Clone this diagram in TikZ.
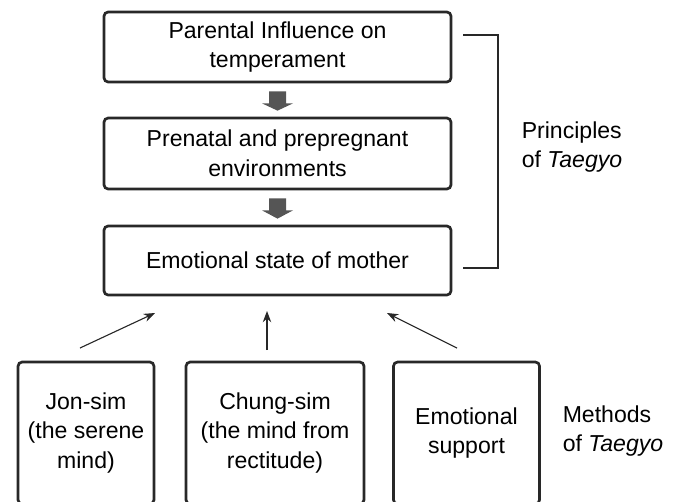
\documentclass[tikz,border=0pt]{standalone}
\usepackage{fontspec}
\setmainfont{Liberation Sans}
\usetikzlibrary{arrows.meta, positioning, calc}
\definecolor{boxline}{RGB}{40, 40, 40}
\definecolor{blockgray}{RGB}{85, 85, 85}
\tikzset{
  stagebox/.style={
    draw=boxline,
    line width=1.9pt,
    rounded corners=3pt,
    fill=white,
    minimum width=246.8pt,
    align=center,
    inner sep=2pt,
    font=\fontsize{16.4}{21}\selectfont
  },
  methodbox/.style={
    stagebox,
    minimum height=101pt
  },
  caption/.style={
    align=left,
    inner sep=0pt,
    font=\fontsize{16.4}{21}\selectfont
  },
  blockarrow/.style={
    fill=blockgray
  },
  pointer/.style={
    draw=boxline,
    line width=0.8pt,
    -{Stealth[length=8pt, width=6pt]}
  },
  bracket/.style={
    draw=boxline,
    line width=0.8pt
  }
}
\begin{document}
\begin{tikzpicture}[x=0.025cm, y=-0.025cm]
  \clip (0,0) rectangle (678,501);
  % principles
  \node[stagebox, minimum height=49.8pt] (influence) at (277.5, 47) {Parental Influence on\\temperament};
  \node[stagebox, minimum height=50.5pt] (prenatal) at (277.5, 153.5) {Prenatal and prepregnant\\environments};
  \node[stagebox, minimum height=49.1pt] (mother) at (277.5, 260.5) {Emotional state of mother};

  \foreach \from/\to in {influence/prenatal, prenatal/mother}
    \path[blockarrow] ($(\from.south)+(-8.5,8)$) -- ($(\from.south)+(8.5,8)$)
      -- ($(\from.south)+(8.5,20)$) -- ($(\from.south)+(15.5,20)$)
      -- ($(\to.north)+(0,-6)$)
      -- ($(\from.south)+(-15.5,20)$) -- ($(\from.south)+(-8.5,20)$) -- cycle;

  % methods
  \node[methodbox, minimum width=96.7pt] (jonsim) at (86, 433) {Jon-sim\\(the serene\\mind)};
  \node[methodbox, minimum width=126.6pt] (chungsim) at (275, 433) {Chung-sim\\(the mind from\\rectitude)};
  \node[methodbox, minimum width=103.9pt] (support) at (466.5, 433) {Emotional\\support};

  \coordinate (jontail) at (80, 348);
  \coordinate (jontip) at (155, 313);
  \coordinate (chungtail) at (267, 350);
  \coordinate (chungtip) at (267, 311);
  \coordinate (supporttail) at (457, 348);
  \coordinate (supporttip) at (387, 313);
  \draw[pointer] (jontail) -- (jontip);
  \draw[pointer] (chungtail) -- (chungtip);
  \draw[pointer] (supporttail) -- (supporttip);

  % side labels
  \coordinate (brtop) at (463, 35);
  \coordinate (brbot) at (463, 268);
  \draw[bracket] (brtop) -- (498, 35) -- (498, 268) -- (brbot);
  \node[caption] (principles) at (572, 147) {Principles\\of \textit{Taegyo}};
  \node[caption] (methods) at (613, 431) {Methods\\of \textit{Taegyo}};
\end{tikzpicture}
\end{document}
